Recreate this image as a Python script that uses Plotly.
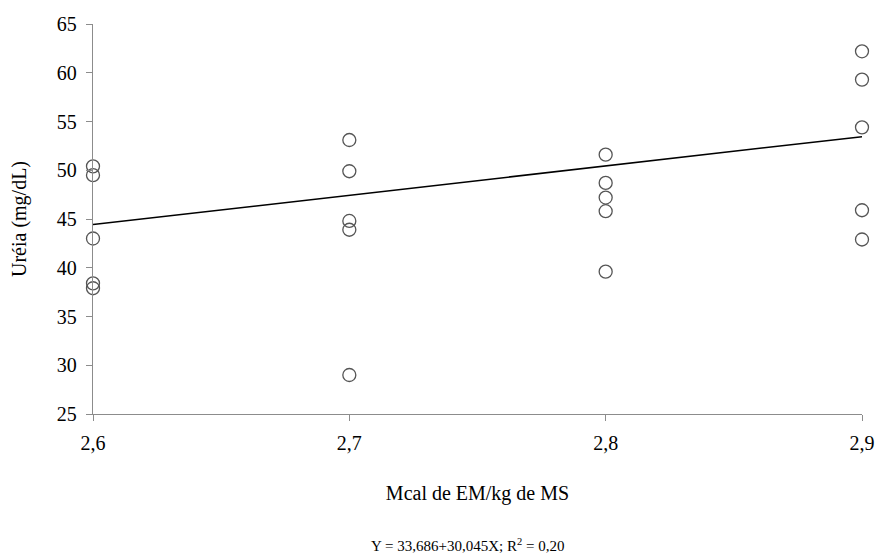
import plotly.graph_objects as go

# Energy levels (Mcal EM/kg MS) and measured urea (mg/dL)
energia = [2.6, 2.6, 2.6, 2.6, 2.6,
           2.7, 2.7, 2.7, 2.7, 2.7,
           2.8, 2.8, 2.8, 2.8, 2.8,
           2.9, 2.9, 2.9, 2.9, 2.9]
ureia = [50.4, 49.5, 43.0, 38.4, 37.9,
         53.1, 49.9, 44.8, 43.9, 29.0,
         51.6, 48.7, 47.2, 45.8, 39.6,
         62.2, 59.3, 54.4, 45.9, 42.9]

# Fitted regression line
intercepto = -33.686
inclinacao = 30.045
reta_x = [2.6, 2.9]
reta_y = [intercepto + inclinacao * x for x in reta_x]

equacao = "Y = 33,686+30,045X; R<sup>2</sup> = 0,20"

serif = "Liberation Serif"

fig = go.Figure()
fig.add_trace(go.Scatter(
    x=reta_x, y=reta_y, mode="lines",
    line=dict(color="black", width=1.5),
    showlegend=False, hoverinfo="skip",
))
fig.add_trace(go.Scatter(
    x=energia, y=ureia, mode="markers",
    marker=dict(symbol="circle-open", size=13,
                line=dict(color="#555555", width=1.3), color="#555555"),
    cliponaxis=False, showlegend=False,
))

tick_font = dict(family=serif, size=20, color="black")
title_font = dict(family=serif, size=20, color="black")

fig.update_layout(
    width=882, height=557,
    margin=dict(l=93, r=20, t=24, b=143),
    paper_bgcolor="white", plot_bgcolor="white",
    separators=",.",
    font=dict(family=serif, color="black"),
    xaxis=dict(
        range=[2.6, 2.9], tickvals=[2.6, 2.7, 2.8, 2.9], tickformat=".1f",
        automargin=False,
        showgrid=False, zeroline=False,
        showline=True, linecolor="#8c8c8c", linewidth=1.3,
        ticks="outside", ticklen=6, tickcolor="#8c8c8c",
        tickfont=tick_font, ticklabelstandoff=5,
        title=dict(text="Mcal de EM/kg de MS", font=title_font, standoff=32),
    ),
    yaxis=dict(
        range=[25, 65], dtick=5, tick0=25,
        automargin=False,
        showgrid=False, zeroline=False,
        showline=True, linecolor="#8c8c8c", linewidth=1.3,
        ticks="outside", ticklen=6, tickcolor="#8c8c8c",
        tickfont=tick_font, ticklabelstandoff=5,
        title=dict(text="Uréia (mg/dL)", font=title_font, standoff=24),
    ),
    annotations=[dict(
        text=equacao, xref="paper", yref="paper",
        x=0.487, y=-0.335, xanchor="center", yanchor="middle",
        showarrow=False,
        font=dict(family=serif, size=15, color="black"),
    )],
)

fig.write_html("out.html")
